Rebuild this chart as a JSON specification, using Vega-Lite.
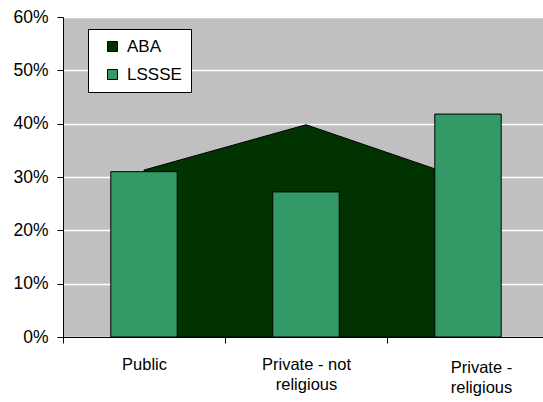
{
  "$schema": "https://vega.github.io/schema/vega-lite/v6.json",
  "width": 486,
  "height": 320,
  "autosize": "none",
  "padding": {"left": 63, "top": 17, "right": 0, "bottom": 65},
  "background": "white",
  "config": {
    "view": {"fill": "#C0C0C0", "stroke": null},
    "font": "Liberation Sans",
    "axis": {"labelFont": "Liberation Sans", "labelColor": "black", "domainColor": "black", "tickColor": "black", "labelFontSize": 17, "labelOverlap": false}
  },
  "data": {
    "values": [
      {"category": "Public", "series": "ABA", "value": 0.313},
      {"category": "Private - not religious", "series": "ABA", "value": 0.398},
      {"category": "Private - religious", "series": "ABA", "value": 0.294},
      {"category": "Public", "series": "LSSSE", "value": 0.31},
      {"category": "Private - not religious", "series": "LSSSE", "value": 0.272},
      {"category": "Private - religious", "series": "LSSSE", "value": 0.418}
    ]
  },
  "encoding": {
    "x": {
      "field": "category",
      "type": "nominal",
      "sort": ["Public", "Private - not religious", "Private - religious"],
      "scale": {"paddingInner": 0, "paddingOuter": 0},
      "axis": {
        "title": null,
        "labelAngle": 0,
        "tickBand": "extent",
        "tickSize": 6,
        "labelPadding": {"condition": {"test": "datum.value == 'Private - religious'", "value": 16}, "value": 13},
        "labelOffset": {"condition": {"test": "datum.value == 'Private - religious'", "value": 13}, "value": 0},
        "labelLineHeight": 20,
        "grid": false,
        "labelFontSize": 16.5,
        "labelExpr": "datum.value == 'Private - not religious' ? ['Private - not', 'religious'] : datum.value == 'Private - religious' ? ['Private -', 'religious'] : datum.value"
      }
    },
    "y": {
      "field": "value",
      "type": "quantitative",
      "scale": {"domain": [0, 0.6]},
      "axis": {
        "title": null,
        "format": ".0%",
        "values": [0, 0.1, 0.2, 0.3, 0.4, 0.5, 0.6],
        "grid": true,
        "gridColor": "white",
        "gridWidth": 1.5,
        "tickSize": 6,
        "labelPadding": 9,
        "labelFontSize": 17.5
      }
    },
    "color": {
      "field": "series",
      "type": "nominal",
      "scale": {"domain": ["ABA", "LSSSE"], "range": ["#003300", "#339966"]},
      "legend": {
        "title": null,
        "orient": "none",
        "legendX": 25,
        "legendY": 12,
        "fillColor": "white",
        "strokeColor": "black",
        "padding": 9,
        "symbolType": "square",
        "symbolSize": 100,
        "symbolStrokeColor": "black",
        "symbolStrokeWidth": 1,
        "symbolOpacity": 1,
        "labelFontSize": 17,
        "labelFont": "Liberation Sans",
        "rowPadding": 10,
        "labelOffset": 6,
        "symbolOffset": 7
      }
    }
  },
  "layer": [
    {
      "transform": [{"filter": "datum.series == 'ABA'"}],
      "mark": {"type": "area", "stroke": "black", "strokeWidth": 1, "opacity": 1}
    },
    {
      "transform": [{"filter": "datum.series == 'LSSSE'"}],
      "mark": {"type": "bar", "stroke": "black", "strokeWidth": 1, "width": {"band": 0.41}, "opacity": 1}
    }
  ]
}
